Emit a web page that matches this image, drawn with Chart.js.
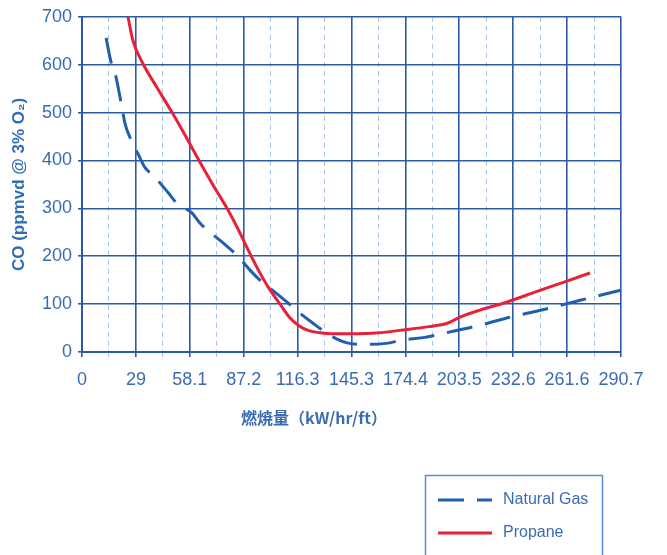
<!DOCTYPE html>
<html>
<head>
<meta charset="utf-8">
<script src="https://cdn.jsdelivr.net/npm/chart.js@4"></script>
<style>
  html, body { margin: 0; padding: 0; background: #ffffff; }
  #c { display: block; }
</style>
</head>
<body>
<canvas id="c" width="667" height="555" style="width:667px;height:555px"></canvas>
<script>
// Axis setup
const xTickLabels = ['0', '29', '58.1', '87.2', '116.3', '145.3', '174.4', '203.5', '232.6', '261.6', '290.7'];
const xMax = 290.7;
const yMax = 700;
const yStep = 100;

// Natural gas CO curve
const naturalGasX = [13, 15.5, 17.8, 21.6, 23.2, 25.9, 30.2, 34, 38.3, 43.2, 46.4, 51.3, 55.6, 59.4, 63.7, 69, 74.5, 79, 83.6, 90.6, 96, 104, 110.6, 117.6, 124.6, 131, 137, 143, 149, 155, 164, 173, 184, 198.6, 214.8, 229, 245, 268.7, 280, 290.7];
const naturalGasY = [656, 608, 583, 510, 477, 448, 414, 385, 369, 348, 333, 310, 300, 290, 269, 250, 233, 218, 202, 171, 150, 125, 104, 81, 60, 42, 28, 19, 16, 16, 18, 25, 30, 42, 56, 71, 85, 108, 119, 129];

// Propane CO curve
const propaneX = [24.8, 27.5, 32.9, 40.5, 48.6, 56, 63.1, 70.5, 78.2, 84, 90, 95, 100.5, 106.8, 112, 116.6, 122, 128.4, 135, 144.6, 160, 173, 187, 197, 204, 215, 229, 245, 260, 274];
const propaneY = [700, 650, 602, 552, 500, 450, 400, 350, 300, 258, 210, 172, 135, 100, 72, 56, 45, 40, 38, 38, 40, 46, 53, 60, 73, 88, 104, 126, 146, 165];

const seriesNames = ['Natural Gas', 'Propane'];
const xTitle = '燃焼量（kW/hr/ft）';
const yTitle = 'CO (ppmvd @ 3% O₂)';

const GRID = '#2a5aa8';
const MINOR = '#a9c6e7';
const TEXT = '#3a6cb1';
const GAS_BLUE = '#1f5fae';
const PROPANE_RED = '#e8213a';

Chart.defaults.font.family = '"Liberation Sans", Arial, sans-serif';

const toPoints = (xs, ys) => xs.map((x, i) => ({ x: x, y: ys[i] }));

// Draws the x title under the tick labels and the boxed legend at the bottom right
const decorations = {
  id: 'decorations',
  afterDraw(chart) {
    const ctx = chart.ctx;
    ctx.save();
    ctx.fillStyle = TEXT;
    ctx.font = 'bold 16px "Noto Sans CJK JP", sans-serif';
    ctx.textAlign = 'center';
    ctx.textBaseline = 'middle';
    ctx.fillText(xTitle, 314, 418);

    // legend frame
    ctx.strokeStyle = '#5b8dcc';
    ctx.lineWidth = 1.5;
    ctx.strokeRect(425.5, 475.5, 177, 100);

    ctx.font = '16px "Liberation Sans", Arial, sans-serif';
    ctx.textAlign = 'left';
    chart.data.datasets.forEach((ds, i) => {
      const y = 500 + i * 33;
      ctx.beginPath();
      ctx.strokeStyle = ds.borderColor;
      ctx.lineWidth = ds.borderWidth;
      ctx.setLineDash(ds.borderDash || []);
      ctx.moveTo(438, y);
      ctx.lineTo(492, y);
      ctx.stroke();
      ctx.setLineDash([]);
      ctx.fillStyle = TEXT;
      ctx.fillText(ds.label, 503, y);
    });
    ctx.restore();
  }
};

new Chart(document.getElementById('c'), {
  type: 'line',
  data: {
    datasets: [
      {
        label: seriesNames[0],
        data: toPoints(naturalGasX, naturalGasY),
        borderColor: GAS_BLUE,
        borderWidth: 3,
        borderDash: [26, 13],
        pointRadius: 0,
        cubicInterpolationMode: 'monotone',
        fill: false,
        order: 1
      },
      {
        label: seriesNames[1],
        data: toPoints(propaneX, propaneY),
        borderColor: PROPANE_RED,
        borderWidth: 3,
        pointRadius: 0,
        cubicInterpolationMode: 'monotone',
        fill: false,
        order: 0
      }
    ]
  },
  options: {
    responsive: false,
    animation: false,
    layout: { padding: { top: 16, right: 46, bottom: 0, left: 0 } },
    plugins: {
      legend: { display: false },
      tooltip: { enabled: false }
    },
    scales: {
      x: {
        type: 'linear',
        min: 0,
        max: xMax,
        afterBuildTicks: (s) => {
          const n = (xTickLabels.length - 1) * 2;
          s.ticks = [];
          for (let i = 0; i <= n; i++) s.ticks.push({ value: xMax * i / n });
        },
        afterFit: (s) => { s.height = 203; },
        ticks: {
          autoSkip: false,
          maxRotation: 0,
          padding: 12,
          color: TEXT,
          font: { size: 18 },
          callback: (v, i) => (i % 2 === 0 ? xTickLabels[i / 2] : '')
        },
        grid: {
          color: (c) => (c.index % 2 ? MINOR : GRID),
          lineWidth: (c) => (c.index % 2 ? 1 : 1.6),
          tickColor: (c) => (c.index % 2 ? MINOR : GRID),
          tickLength: 5
        },
        border: {
          color: GRID,
          width: 2,
          dash: (c) => (c.index % 2 ? [5, 4] : [])
        }
      },
      y: {
        min: 0,
        max: yMax,
        afterFit: (s) => { s.width = 82; },
        ticks: {
          stepSize: yStep,
          padding: 6,
          color: TEXT,
          font: { size: 18 }
        },
        grid: {
          color: GRID,
          lineWidth: 1.6,
          tickColor: GRID,
          tickLength: 4
        },
        border: { color: GRID, width: 2 },
        title: {
          display: true,
          text: yTitle,
          color: '#2f6db5',
          font: { size: 17, weight: 'bold' },
          padding: { top: 9, bottom: 0 }
        }
      }
    }
  },
  plugins: [decorations]
});
</script>
</body>
</html>
